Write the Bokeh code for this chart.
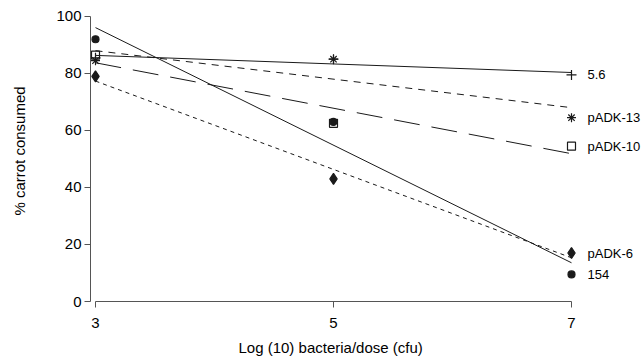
import numpy as np
from bokeh.plotting import figure
from bokeh.models import ColumnDataSource, FixedTicker, LabelSet, Title, Range1d
from bokeh.core.properties import value
from bokeh.embed import file_html
from bokeh.resources import INLINE

# ---- data ----
dose = [3, 5, 7]
s154 = [92, 63, 9.5]
pADK6 = [79, 43, 17]
pADK10 = [86.4, 62.5, 54.5]
pADK13 = [84.5, 85, 64.5]
s56 = [85.5, 85, 79.5]
names = ["5.6", "pADK-13", "pADK-10", "pADK-6", "154"]
x_ticks = [3, 5, 7]
y_ticks = [0, 20, 40, 60, 80, 100]

FONT = "Liberation Sans"
INK = "#1a1a1a"

W, H = 644, 362
L = 90           # frame left (px)
X3, X7 = 95, 571 # pixel positions of x=3 and x=7 in the reference
PX_X = (X7 - X3) / 4.0
x0 = 3 - (X3 - L) / PX_X
x1 = 7 + (W - X7) / PX_X
Y0, Y100 = 302, 16
PX_Y = (Y0 - Y100) / 100.0
y1 = 100 + Y100 / PX_Y

p = figure(width=W, height=H, x_range=Range1d(x0, x1), y_range=Range1d(0, y1),
           output_backend="svg", toolbar_location=None,
           min_border_left=L, min_border_right=0, min_border_top=0,
           min_border_bottom=H - Y0)
p.outline_line_color = None
p.xgrid.visible = False
p.ygrid.visible = False
p.background_fill_color = "white"
p.border_fill_color = "white"

for ax in (p.xaxis, p.yaxis):
    ax.axis_line_color = "#555555"
    ax.major_tick_line_color = "#555555"
    ax.major_tick_in = 0
    ax.major_tick_out = 6
    ax.minor_tick_in = 0
    ax.minor_tick_out = 0
    ax.major_label_text_font = FONT
    ax.major_label_text_font_size = "15px"
    ax.major_label_text_color = "black"
    ax.axis_label_text_font = FONT
    ax.axis_label_text_font_size = "15px"
    ax.axis_label_text_font_style = "normal"
    ax.axis_label_text_color = "black"

p.xaxis.ticker = FixedTicker(ticks=x_ticks)
p.xaxis.bounds = (x_ticks[0], x_ticks[-1])
p.xaxis.major_label_standoff = 10

p.yaxis.ticker = FixedTicker(ticks=y_ticks)
p.yaxis.bounds = (y_ticks[0], y_ticks[-1])
p.yaxis.major_label_standoff = 3
p.yaxis.axis_label = "% carrot consumed"
p.yaxis.axis_label_standoff = 25

xt = Title(text="Log (10) bacteria/dose (cfu)", align="left", offset=148,
           text_font=FONT, text_font_size="15px", text_font_style="normal",
           text_color="black", standoff=13)
p.add_layout(xt, "below")

series = [
    (s56, "solid", "cross", 10, INK, None),
    (pADK13, "7 6", "asterisk", 9, INK, None),
    (pADK10, "26 12", "square", 8, INK, None),
    (pADK6, "4 4", "diamond", 11, INK, INK),
    (s154, "solid", "circle", 7, INK, INK),
]

xd = np.array(dose, dtype=float)
for ys, dash, marker, size, lc, fc in series:
    k, b = np.polyfit(xd, np.array(ys, dtype=float), 1)
    ends = np.array([dose[0], dose[-1]], dtype=float)
    p.line(ends, k * ends + b, line_color=INK, line_width=1, line_dash=dash)

# circles first so the open square sits over them
order = [4, 3, 0, 1, 2]
for i in order:
    ys, dash, marker, size, lc, fc = series[i]
    p.scatter(dose, ys, marker=marker, size=size, line_color=lc,
              fill_color=fc, line_width=1.2)

last_vals = [s56[-1], pADK13[-1], pADK10[-1], pADK6[-1], s154[-1]]
lab_src = ColumnDataSource(dict(x=[dose[-1]] * len(names), y=last_vals, text=names))
labels = LabelSet(x="x", y="y", text="text", source=lab_src, x_offset=16,
                  text_font=value(FONT), text_font_size=value("13px"),
                  text_baseline="middle", text_color="black")
p.add_layout(labels)

open("out.html", "w").write(file_html(p, INLINE))
